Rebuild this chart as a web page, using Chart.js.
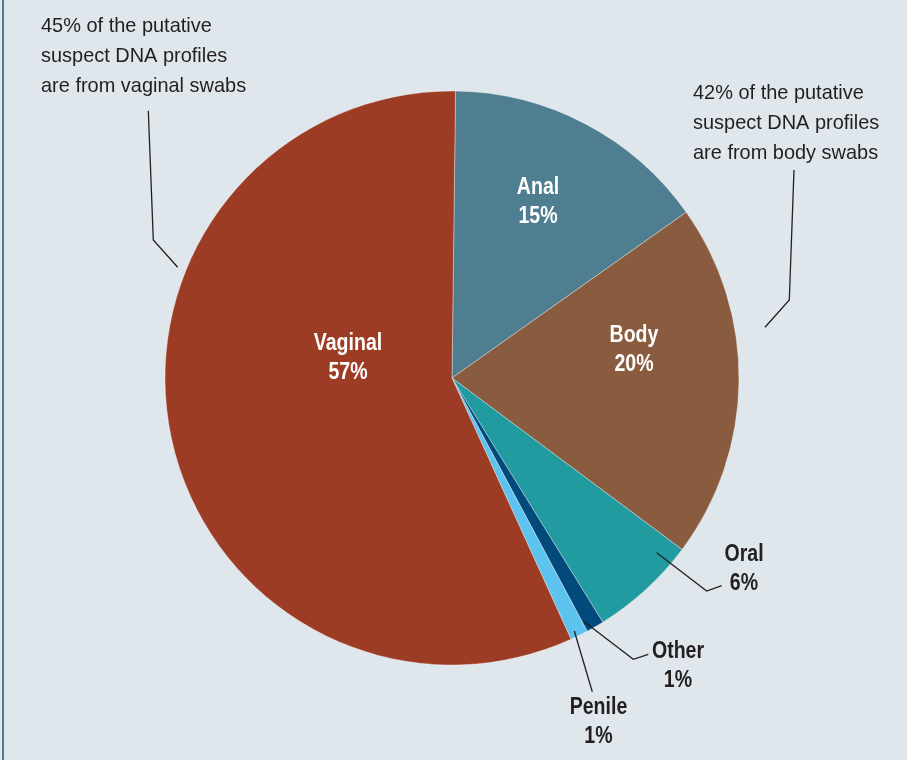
<!DOCTYPE html>
<html><head><meta charset="utf-8">
<script src="https://cdn.jsdelivr.net/npm/chart.js@4"></script>
<style>html,body{margin:0;padding:0;background:#dfe6ec;} canvas{display:block}</style>
</head><body>
<canvas id="c" width="907" height="760"></canvas>
<script>
// ---- data ----
const categories = ['Anal', 'Body', 'Oral', 'Other', 'Penile', 'Vaginal'];
const shares = [15, 20, 6, 1, 1, 57];
const shareLabels = ['15%', '20%', '6%', '1%', '1%', '57%'];
const noteVaginal = ['45% of the putative', 'suspect DNA profiles', 'are from vaginal swabs'];
const noteBody = ['42% of the putative', 'suspect DNA profiles', 'are from body swabs'];

// ---- styles / layout ----
const sliceColors = ['#4f7e91', '#8a5c3f', '#219b9f', '#014a7b', '#5cc3ee', '#9d3c24'];
const BG = '#dfe6ec';
const INK = '#231f20';
const labelFont = "bold 23px 'Liberation Sans', Arial, sans-serif";
const labelSqueeze = 0.85;
const noteFont = "21px 'Liberation Sans', Arial, sans-serif";
const noteSqueeze = 0.95;
// label anchors: offset from pie centre (px), inside = white text
const labelLayout = {
  Anal:    {dx: 86,  dy: -176, inside: true},
  Body:    {dx: 182, dy: -28,  inside: true},
  Vaginal: {dx: -104, dy: -20, inside: true},
  Oral:    {dx: 292, dy: 191,  inside: false},
  Other:   {dx: 226, dy: 288,  inside: false},
  Penile:  {dx: 146.5, dy: 344, inside: false}
};
const leaderLayout = [
  [[-303.7, -267.3], [-298.7, -138], [-274.3, -110.7]],
  [[342, -208], [337.3, -78], [313, -50.7]],
  [[204.7, 174.7], [254.7, 213], [269.7, 207.7]],
  [[131.3, 243], [181.3, 281.3], [196.3, 276.3]],
  [[122.3, 253], [140.3, 313.7]]
];
const noteLayout = [
  {lines: noteVaginal, dx: -411, dy: -346},
  {lines: noteBody, dx: 241, dy: -279}
];

function squeezedText(ctx, text, x, y, sx) {
  ctx.save();
  ctx.translate(x, y);
  ctx.scale(sx, 1);
  ctx.fillText(text, 0, 0);
  ctx.restore();
}

const annoPlugin = {
  id: 'anno',
  beforeDraw(chart) {
    const ctx = chart.ctx;
    ctx.save();
    ctx.fillStyle = BG;
    ctx.fillRect(0, 0, chart.width, chart.height);
    ctx.fillStyle = '#4a7d8c';
    ctx.fillRect(2, 0, 2, chart.height);
    ctx.restore();
  },
  afterDraw(chart) {
    const ctx = chart.ctx;
    const arc = chart.getDatasetMeta(0).data[0];
    const cx = arc.x, cy = arc.y;
    ctx.save();
    // leader lines
    ctx.strokeStyle = INK;
    ctx.lineWidth = 1.3;
    ctx.lineJoin = 'miter';
    leaderLayout.forEach(pts => {
      ctx.beginPath();
      pts.forEach((p, i) => i ? ctx.lineTo(cx + p[0], cy + p[1]) : ctx.moveTo(cx + p[0], cy + p[1]));
      ctx.stroke();
    });
    // slice labels
    ctx.font = labelFont;
    ctx.textAlign = 'center';
    ctx.textBaseline = 'middle';
    categories.forEach((name, i) => {
      const L = labelLayout[name];
      ctx.fillStyle = L.inside ? '#ffffff' : INK;
      squeezedText(ctx, name, cx + L.dx, cy + L.dy - 14.5, labelSqueeze);
      squeezedText(ctx, shareLabels[i], cx + L.dx, cy + L.dy + 14.5, labelSqueeze);
    });
    // notes
    ctx.font = noteFont;
    ctx.textAlign = 'left';
    ctx.textBaseline = 'alphabetic';
    ctx.fillStyle = INK;
    noteLayout.forEach(n => {
      n.lines.forEach((t, j) => squeezedText(ctx, t, cx + n.dx, cy + n.dy + j * 30, noteSqueeze));
    });
    ctx.restore();
  }
};

new Chart(document.getElementById('c'), {
  type: 'pie',
  data: {
    labels: categories,
    datasets: [{
      data: shares,
      backgroundColor: sliceColors,
      borderColor: 'rgba(255,255,255,0.35)',
      borderWidth: 1
    }]
  },
  options: {
    responsive: false,
    animation: false,
    rotation: 0.7,
    radius: 287,
    layout: {padding: {left: 165, right: 168, top: 91, bottom: 95}},
    plugins: {legend: {display: false}, tooltip: {enabled: false}}
  },
  plugins: [annoPlugin]
});
</script>
</body></html>
